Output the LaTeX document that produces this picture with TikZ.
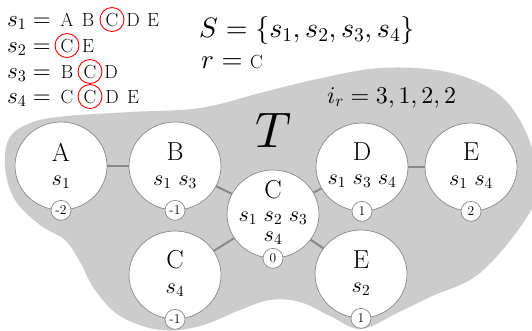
\documentclass[tikz,border=0pt]{standalone}
\DeclareFontShape{OML}{cmm}{m}{it}{<-> cmmi10}{}
\DeclareFontShape{OMS}{cmsy}{m}{n}{<-> cmsy10}{}
\DeclareFontShape{OT1}{cmr}{m}{n}{<-> cmr10}{}
\DeclareFontShape{OMX}{cmex}{m}{n}{<-> cmex10}{}
\usetikzlibrary{shapes.geometric,backgrounds}
\definecolor{blobgray}{HTML}{CCCCCC}
\definecolor{edgegray}{HTML}{888888}
\begin{document}
\begin{tikzpicture}[x=1pt,y=-1pt,
  tnode/.style={ellipse,draw=edgegray,line width=0.7pt,fill=white,minimum width=92pt,minimum height=88pt,inner sep=0pt},
  badge/.style={circle,draw=edgegray,line width=0.7pt,fill=white,minimum size=20pt,inner sep=0pt,font=\fontsize{13.5}{15}\selectfont},
  lbl/.style={font=\fontsize{26}{30}\selectfont,inner sep=0pt},
  srow/.style={font=\fontsize{22}{26}\selectfont,inner sep=0pt},
  tedge/.style={draw=edgegray,line width=2pt},
  rowmath/.style={font=\fontsize{23}{28}\selectfont,anchor=base west,inner sep=0pt},
  letter/.style={font=\fontsize{19}{21}\selectfont,anchor=base,inner sep=0pt},
  ring/.style={circle,draw=red,line width=0.9pt,minimum size=24pt,inner sep=0pt}
]
\useasboundingbox (0,0) rectangle (532,330);

% top-left rows
\node[rowmath] (s1) at (7,26) {$s_1 =$};
\node[letter] (r1a) at (67,26) {A};
\node[letter] (r1b) at (88,26) {B};
\node[letter] (r1c) at (112,26) {C};
\node[letter] (r1d) at (133,26) {D};
\node[letter] (r1e) at (153,26) {E};
\node[ring] (r1ring) at (r1c.center) {};

\node[rowmath] (s2) at (7,52) {$s_2 =$};
\node[letter] (r2c) at (67,52) {C};
\node[letter] (r2e) at (88,52) {E};
\node[ring] (r2ring) at (r2c.center) {};

\node[rowmath] (s3) at (7,78) {$s_3 =$};
\node[letter] (r3b) at (67,78) {B};
\node[letter] (r3c) at (90,78) {C};
\node[letter] (r3d) at (111,78) {D};
\node[ring] (r3ring) at (r3c.center) {};

\node[rowmath] (s4) at (7,103) {$s_4 =$};
\node[letter] (r4c) at (67,103) {C};
\node[letter] (r4cc) at (90,103) {C};
\node[letter] (r4d) at (112,103) {D};
\node[letter] (r4e) at (133,103) {E};
\node[ring] (r4ring) at (r4cc.center) {};

% set and root
\node[font=\fontsize{28}{32}\selectfont,anchor=base west,inner sep=0pt] (Sset) at (199,37) {$S = \{s_1, s_2, s_3, s_4\}$};
\node[font=\fontsize{27}{32}\selectfont,anchor=base west,inner sep=0pt] (root) at (201,68) {$r = \mbox{\fontsize{19}{22}\selectfont C}$};

% tree nodes
\node[tnode] (A) at (61,166) {};
\node[lbl] (Al) at (61,152) {A};
\node[srow] (As) at (61,182) {$s_1$};
\node[badge] (Ab) at (A.south) {-2};

\node[tnode] (B) at (175,166) {};
\node[lbl] (Bl) at (175,152) {B};
\node[srow] (Bs) at (175,182) {$s_1~s_3$};
\node[badge] (Bb) at (B.south) {-1};

\node[tnode] (Cc) at (273,214) {};
\node[lbl] (Ccl) at (273,190) {C};
\node[srow] (Ccs) at (273,218) {$s_1~s_2~s_3$};
\node[srow] (Ccs4) at (273,238) {$s_4$};
\node[badge] (Ccb) at (Cc.south) {0};

\node[tnode] (D) at (362,167) {};
\node[lbl] (Dl) at (362,152) {D};
\node[srow] (Ds) at (362,181) {$s_1~s_3~s_4$};
\node[badge] (Db) at (D.south) {1};

\node[tnode] (E1) at (471,167) {};
\node[lbl] (E1l) at (471,152) {E};
\node[srow] (E1s) at (471,182) {$s_1~s_4$};
\node[badge] (E1b) at (E1.south) {2};

\node[tnode] (C2) at (175,275) {};
\node[lbl] (C2l) at (175,260) {C};
\node[srow] (C2s) at (175,290) {$s_4$};
\node[badge] (C2b) at (C2.south) {-1};

\node[tnode] (E2) at (361,274) {};
\node[lbl] (E2l) at (361,260) {E};
\node[srow] (E2s) at (361,289) {$s_2$};
\node[badge] (E2b) at (E2.south) {1};

\node[font=\fontsize{24}{28}\selectfont,anchor=base west,inner sep=0pt] (ir) at (327,103) {$i_r = 3, 1, 2, 2$};
\node[font=\fontsize{50}{60}\selectfont,inner sep=0pt] (Tlbl) at (274,130) {$T$};

\begin{scope}[on background layer]
\fill[blobgray] plot[smooth cycle,tension=0.6] coordinates {
 (200,108) (260,93) (313,80) (380,68) (447,72) (497,93) (525,130) (538,180)
 (527,217) (480,273) (430,297) (397,313) (361,329) (330,316) (300,302) (270,300)
 (240,310) (200,326) (160,330) (120,316) (95,290) (80,262) (65,240) (40,225)
 (15,200) (5,167) (10,137) (33,122) (67,116) (130,112)};
\draw[tedge] (A) -- (B);
\draw[tedge] (B) -- (Cc);
\draw[tedge] (Cc) -- (D);
\draw[tedge] (D) -- (E1);
\draw[tedge] (Cc) -- (C2);
\draw[tedge] (Cc) -- (E2);
\end{scope}
\end{tikzpicture}
\end{document}
